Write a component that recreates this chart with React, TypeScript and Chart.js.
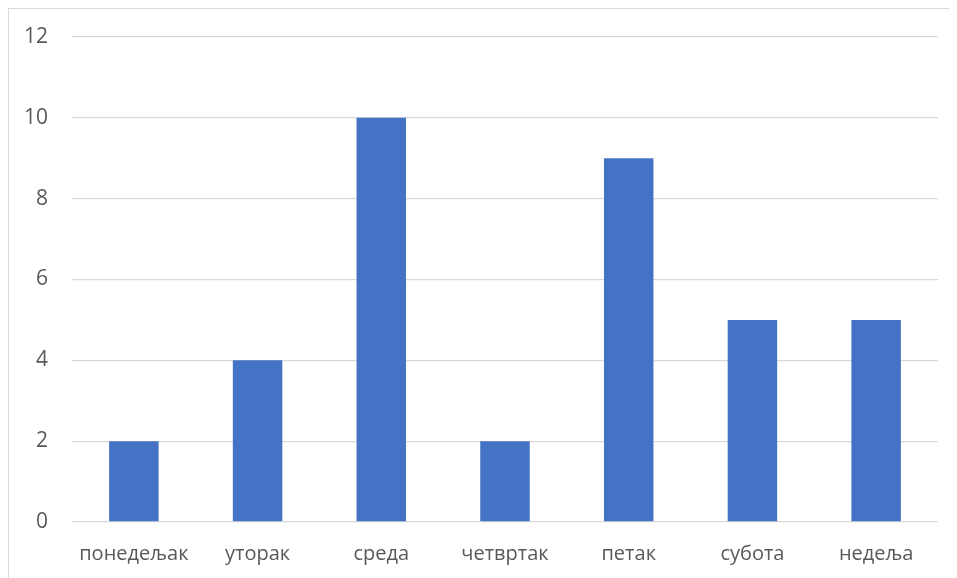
import React, { useEffect, useRef } from "react";
import { Chart, registerables } from "chart.js";

Chart.register(...registerables);

const categories = ["понедељак", "уторак", "среда", "четвртак", "петак", "субота", "недеља"];
const values = [2, 4, 10, 2, 9, 5, 5];
const yTicks = [0, 2, 4, 6, 8, 10, 12];

export default function App() {
  const ref = useRef<HTMLCanvasElement | null>(null);

  useEffect(() => {
    if (!ref.current) return;
    const chart = new Chart(ref.current, {
      type: "bar",
      data: {
        labels: categories,
        datasets: [
          {
            data: values,
            backgroundColor: "#4472C4",
            borderWidth: 0,
            barPercentage: 0.4,
            categoryPercentage: 1,
          },
        ],
      },
      options: {
        animation: false,
        responsive: false,
        maintainAspectRatio: false,
        layout: { padding: { left: 0, right: 19, top: 28, bottom: 0 } },
        plugins: { legend: { display: false }, tooltip: { enabled: false } },
        scales: {
          x: {
            grid: { display: false },
            border: { display: false },
            ticks: {
              color: "#595959",
              font: { family: "'Open Sans'", size: 20 },
              padding: 12,
              maxRotation: 0,
              autoSkip: false,
            },
            afterFit: (s: any) => {
              s.height = 56;
            },
          },
          y: {
            min: yTicks[0],
            max: yTicks[yTicks.length - 1],
            grid: { color: "#d9d9d9", lineWidth: 1.3, drawTicks: false },
            border: { display: false },
            afterBuildTicks: (s: any) => {
              s.ticks = yTicks.map((v) => ({ value: v }));
            },
            ticks: {
              color: "#595959",
              font: { family: "'Open Sans'", size: 21 },
              padding: 24,
            },
            afterFit: (s: any) => {
              s.width = 63;
              s.paddingTop = 0;
              s.paddingBottom = 0;
            },
          },
        },
      },
    });
    return () => chart.destroy();
  }, []);

  return (
    <div
      style={{
        width: 948,
        height: 569,
        borderTop: "1px solid #d9d9d9",
        borderLeft: "1px solid #d9d9d9",
        background: "#fff",
      }}
    >
      <canvas ref={ref} width={948} height={569} style={{ display: "block", width: 948, height: 569 }} />
    </div>
  );
}
